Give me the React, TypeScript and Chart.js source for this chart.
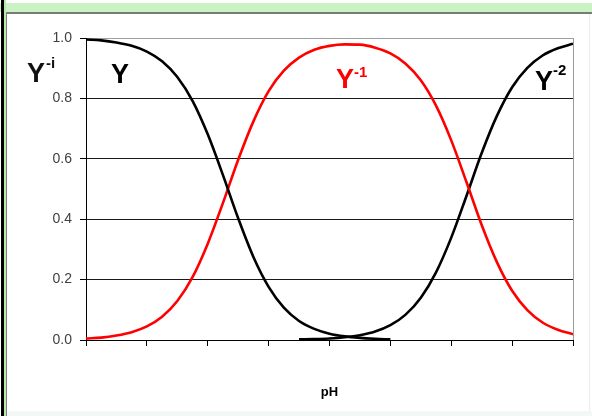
import { useEffect, useRef } from 'react';
import { Chart, registerables } from 'chart.js';

Chart.register(...registerables);

// pH positions (x axis has 8 unlabeled intervals)
const pHValues = [
  0, 0.25, 0.5, 0.75, 1, 1.25, 1.5, 1.75, 2, 2.25, 2.5, 2.75, 3, 3.25, 3.5, 3.75,
  4, 4.25, 4.5, 4.75, 5, 5.25, 5.5, 5.75, 6, 6.25, 6.5, 6.75, 7, 7.25, 7.5, 7.75, 8,
];

// fraction of Y (fully protonated)
const fractionY = [
  0.995, 0.992, 0.985, 0.974, 0.955, 0.923, 0.871, 0.792, 0.681, 0.546, 0.403, 0.275,
  0.176, 0.107, 0.063, 0.037, 0.021, 0.012, 0.007, 0.004, 0.002, null, null, null,
  null, null, null, null, null, null, null, null, null,
];

// fraction of Y^-1
const fractionY1 = [
  0.005, 0.008, 0.015, 0.026, 0.045, 0.077, 0.129, 0.208, 0.319, 0.454, 0.597, 0.724,
  0.824, 0.892, 0.935, 0.961, 0.974, 0.979, 0.978, 0.968, 0.949, 0.915, 0.86, 0.776,
  0.661, 0.523, 0.381, 0.258, 0.163, 0.099, 0.058, 0.034, 0.019,
];

// fraction of Y^-2
const fractionY2 = [
  null, null, null, null, null, null, null, null, null, null, null, null,
  null, null, 0.002, 0.003, 0.005, 0.009, 0.016, 0.028, 0.049, 0.084, 0.14, 0.224,
  0.339, 0.477, 0.619, 0.742, 0.837, 0.901, 0.942, 0.966, 0.981,
];

const yMin = 0;
const yMax = 1;
const yStep = 0.2;
const xMin = 0;
const xMax = 8;
const xStep = 1;
const xTitle = 'pH';

const FONT = 'Arial, "Liberation Sans", sans-serif';

const labelsPlugin = {
  id: 'speciesLabels',
  afterDraw(chart: any) {
    const ctx = chart.ctx;
    const area = chart.chartArea;
    ctx.save();
    // right plot border (gray)
    ctx.strokeStyle = '#9a9a9a';
    ctx.lineWidth = 1;
    ctx.beginPath();
    ctx.moveTo(Math.round(area.right) + 0.5, area.top);
    ctx.lineTo(Math.round(area.right) + 0.5, area.bottom);
    ctx.stroke();

    ctx.textBaseline = 'alphabetic';
    ctx.textAlign = 'left';
    const draw = (base: string, sup: string, x: number, y: number, sx: number, sy: number, color: string) => {
      ctx.fillStyle = color;
      ctx.font = `bold 27px ${FONT}`;
      ctx.fillText(base, x, y);
      if (sup) {
        ctx.font = `bold 15px ${FONT}`;
        ctx.fillText(sup, sx, sy);
      }
    };
    draw('Y', '-i', 27, 82, 46, 68, '#111111');
    draw('Y', '', 111, 83, 0, 0, '#000000');
    draw('Y', '-1', 336, 88, 354, 77, '#ff0000');
    draw('Y', '-2', 535, 90, 553, 75, '#000000');
    ctx.restore();
  },
};

export default function App() {
  const ref = useRef<HTMLCanvasElement | null>(null);

  useEffect(() => {
    document.body.style.margin = '0';
    const canvas = ref.current;
    if (!canvas) return;
    const toPoints = (arr: (number | null)[]) =>
      pHValues.map((x, i) => ({ x, y: arr[i] }));

    const chart = new Chart(canvas, {
      type: 'line',
      data: {
        datasets: [
          {
            label: 'Y',
            data: toPoints(fractionY) as any,
            borderColor: '#000000',
            borderWidth: 2.6,
            pointRadius: 0,
            cubicInterpolationMode: 'monotone',
            spanGaps: false,
          },
          {
            label: 'Y-1',
            data: toPoints(fractionY1) as any,
            borderColor: '#ff0000',
            borderWidth: 2.6,
            pointRadius: 0,
            cubicInterpolationMode: 'monotone',
          },
          {
            label: 'Y-2',
            data: toPoints(fractionY2) as any,
            borderColor: '#000000',
            borderWidth: 2.6,
            pointRadius: 0,
            cubicInterpolationMode: 'monotone',
            spanGaps: false,
          },
        ],
      },
      options: {
        responsive: false,
        animation: false,
        layout: { padding: { top: 38, right: 19, left: 0, bottom: 0 } },
        plugins: {
          legend: { display: false },
          tooltip: { enabled: false },
          title: { display: false },
        },
        scales: {
          x: {
            type: 'linear',
            min: xMin,
            max: xMax,
            ticks: { stepSize: xStep, display: false },
            grid: {
              display: true,
              drawOnChartArea: false,
              drawTicks: true,
              tickLength: 6,
              color: '#000000',
              tickColor: '#000000',
            },
            border: { display: true, color: '#000000', width: 1 },
            title: {
              display: true,
              text: xTitle,
              color: '#000000',
              font: { family: FONT, size: 13, weight: 'bold' },
              padding: { top: 0, bottom: 16 },
            },
            afterFit: (s: any) => {
              s.height = 76;
            },
          },
          y: {
            type: 'linear',
            min: yMin,
            max: yMax,
            ticks: {
              stepSize: yStep,
              padding: 8,
              color: '#404040',
              font: { family: FONT, size: 14 },
              callback: (v: any) => Number(v).toFixed(1),
            },
            grid: {
              color: (c: any) => (c.tick && c.tick.value === 1 ? '#a0a0a0' : '#1a1a1a'),
              tickColor: '#000000',
              tickLength: 6,
              lineWidth: 1,
            },
            border: { display: true, color: '#000000', width: 1 },
            afterFit: (s: any) => {
              s.width = 86;
            },
          },
        },
      },
      plugins: [labelsPlugin],
    });
    return () => chart.destroy();
  }, []);

  return (
    <div style={{ position: 'absolute', left: 0, top: 0, width: 592, height: 416, background: '#ffffff', overflow: 'hidden' }}>
      <div style={{ position: 'absolute', left: 0, top: 3, width: 592, height: 9, background: '#c9f3c2' }} />
      <div style={{ position: 'absolute', left: 6, top: 12, width: 586, height: 2, background: '#7a7a7a' }} />
      <div style={{ position: 'absolute', left: 1, top: 0, width: 3, height: 416, background: '#000000' }} />
      <div style={{ position: 'absolute', left: 4, top: 0, width: 2, height: 416, background: '#b8e8b0' }} />
      <div style={{ position: 'absolute', left: 6, top: 12, width: 1, height: 404, background: '#808080' }} />
      <div style={{ position: 'absolute', left: 589, top: 14, width: 1, height: 402, background: '#ececec' }} />
      <div style={{ position: 'absolute', left: 7, top: 411, width: 585, height: 5, background: '#f2f8f8' }} />
      <canvas
        ref={ref}
        width={592}
        height={416}
        style={{ position: 'absolute', left: 0, top: 0, width: 592, height: 416 }}
      />
    </div>
  );
}
